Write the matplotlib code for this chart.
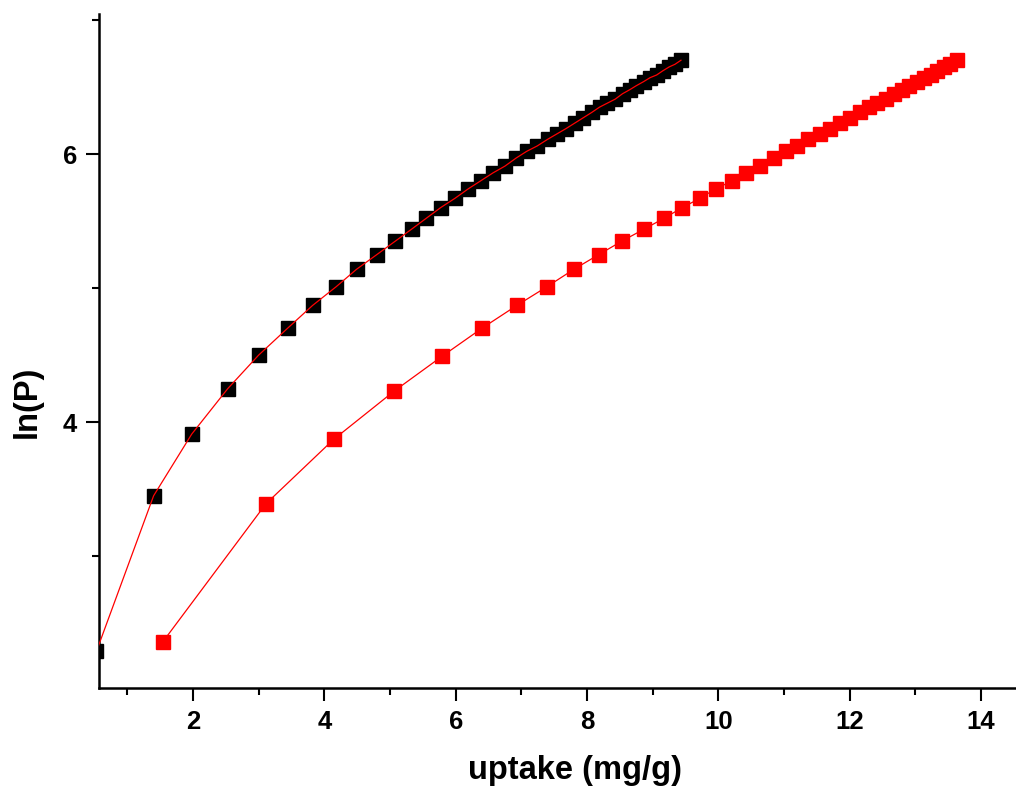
import matplotlib
matplotlib.use('Agg')
import matplotlib.pyplot as plt
from matplotlib.ticker import MultipleLocator

plt.rcParams['font.family'] = ['Liberation Sans', 'DejaVu Sans']
plt.rcParams['font.weight'] = 'bold'

# ln(P) values (same pressure steps for both series)
ln_p = [2.29, 3.45, 3.91, 4.25, 4.50, 4.70, 4.87, 5.01, 5.14, 5.25, 5.35,
        5.44, 5.52, 5.60, 5.67, 5.74, 5.80, 5.86, 5.91, 5.97, 6.02, 6.06,
        6.11, 6.15, 6.19, 6.23, 6.27, 6.31, 6.35, 6.38, 6.41, 6.45, 6.48,
        6.51, 6.54, 6.57, 6.59, 6.62, 6.65, 6.67, 6.70]

# uptake (mg/g), black series
uptake_black = [0.53, 1.40, 1.98, 2.53, 3.00, 3.44, 3.82, 4.18, 4.49, 4.80, 5.08,
                5.33, 5.55, 5.77, 5.99, 6.19, 6.38, 6.57, 6.75, 6.92, 7.08, 7.24,
                7.40, 7.54, 7.68, 7.81, 7.94, 8.07, 8.19, 8.31, 8.43, 8.54, 8.65,
                8.75, 8.86, 8.96, 9.06, 9.15, 9.25, 9.34, 9.43]

# red series
ln_p_red = [2.36, 3.39, 3.87, 4.23, 4.49, 4.70, 4.87, 5.01, 5.14, 5.25, 5.35,
            5.44, 5.52, 5.60, 5.67, 5.74, 5.80, 5.86, 5.91, 5.97, 6.02, 6.06,
            6.11, 6.15, 6.19, 6.23, 6.27, 6.31, 6.35, 6.38, 6.41, 6.45, 6.48,
            6.51, 6.54, 6.57, 6.59, 6.62, 6.65, 6.67, 6.70]
uptake_red = [1.54, 3.11, 4.14, 5.06, 5.79, 6.40, 6.93, 7.39, 7.80, 8.18, 8.53,
              8.87, 9.17, 9.45, 9.72, 9.96, 10.21, 10.42, 10.63, 10.85, 11.03, 11.19,
              11.37, 11.54, 11.70, 11.85, 12.00, 12.15, 12.29, 12.42, 12.55, 12.68, 12.80,
              12.91, 13.02, 13.13, 13.23, 13.33, 13.43, 13.53, 13.63]

fig = plt.figure(figsize=(10.16, 7.91), dpi=100)
ax = fig.add_axes([0.0971, 0.1298, 0.9073, 0.8525])

# black points with red fit line on top
ax.plot(uptake_black, ln_p, linestyle='none', marker='s', markersize=10.5,
        color='black', zorder=2)
ax.plot(uptake_black, ln_p, color='red', linewidth=0.9, zorder=3)

# red points
ax.plot(uptake_red, ln_p_red, color='red', linewidth=0.9, zorder=2)
ax.plot(uptake_red, ln_p_red, linestyle='none', marker='s', markersize=10.5,
        color='red', zorder=3)

ax.set_xlim(0.563, 14.6)
ax.set_ylim(2.013, 7.045)

ax.xaxis.set_major_locator(MultipleLocator(2))
ax.xaxis.set_minor_locator(MultipleLocator(1))
ax.yaxis.set_major_locator(MultipleLocator(2))
ax.yaxis.set_minor_locator(MultipleLocator(1))

ax.spines['top'].set_visible(False)
ax.spines['right'].set_visible(False)
ax.spines['left'].set_linewidth(1.8)
ax.spines['bottom'].set_linewidth(1.8)

ax.tick_params(which='major', direction='out', length=9.5, width=1.5,
               labelsize=18.5, pad=6)
ax.tick_params(which='minor', direction='out', length=5, width=1.5)
for lab in ax.get_xticklabels() + ax.get_yticklabels():
    lab.set_fontweight('bold')

ax.set_xlabel('uptake (mg/g)', fontsize=23.5, fontweight='bold', va='center')
ax.set_ylabel('ln(P)', fontsize=23.5, fontweight='bold', va='center')
ax.xaxis.set_label_coords(0.5655, 0.0265, transform=fig.transFigure)
ax.yaxis.set_label_coords(0.0266, 0.492, transform=fig.transFigure)

fig.savefig('out.png', dpi=100)
